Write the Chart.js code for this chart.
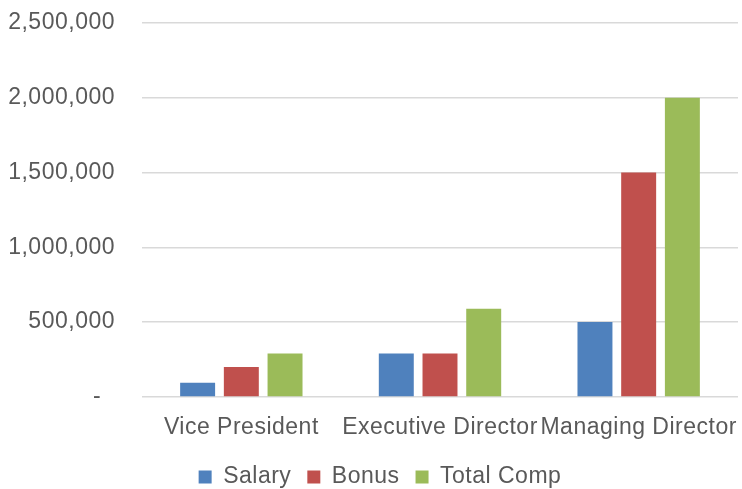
<!DOCTYPE html>
<html>
<head>
<meta charset="utf-8">
<script src="https://cdn.jsdelivr.net/npm/chart.js@4/dist/chart.umd.min.js"></script>
<style>
  html, body { margin: 0; padding: 0; background: #ffffff; }
  #wrap { width: 742px; height: 489px; position: relative; }
</style>
</head>
<body>
<div id="wrap"><canvas id="c"></canvas></div>
<script>
const categories = ['Vice President', 'Executive Director', 'Managing Director'];
const salary = [95000, 290000, 500000];
const bonus = [200000, 290000, 1500000];
const totalComp = [290000, 590000, 2000000];
const seriesNames = ['Salary', 'Bonus', 'Total Comp'];
const yTicks = [0, 500000, 1000000, 1500000, 2000000, 2500000];

const textColor = '#595959';
const fontFamily = '"Liberation Sans", Arial, sans-serif';
const fontSize = 23;

const spacingPlugin = {
  id: 'spacing',
  beforeLayout(chart) { chart.ctx.letterSpacing = '0.5px'; },
  afterLayout(chart) { if (chart.legend) { chart.legend.left += 18; } },
  beforeDraw(chart) { chart.ctx.letterSpacing = '0.5px'; }
};

new Chart(document.getElementById('c'), {
  type: 'bar',
  data: {
    labels: categories,
    datasets: [
      { label: seriesNames[0], data: salary, backgroundColor: '#4f81bd' },
      { label: seriesNames[1], data: bonus, backgroundColor: '#c0504d' },
      { label: seriesNames[2], data: totalComp, backgroundColor: '#9bbb59' }
    ]
  },
  options: {
    responsive: true,
    maintainAspectRatio: false,
    animation: false,
    devicePixelRatio: 1,
    categoryPercentage: 0.66,
    barPercentage: 0.8,
    layout: { padding: { left: 4, right: 4, top: 23, bottom: -9.5 } },
    plugins: {
      tooltip: { enabled: false },
      legend: {
        position: 'bottom',
        labels: {
          boxWidth: 13,
          boxHeight: 13,
          padding: 16,
          color: textColor,
          font: { family: fontFamily, size: fontSize }
        }
      }
    },
    scales: {
      x: {
        grid: { display: false },
        border: { display: false },
        afterFit(scale) { scale.paddingLeft = 0; scale.paddingRight = 0; },
        ticks: { color: textColor, font: { family: fontFamily, size: fontSize }, padding: 8.5, maxRotation: 0, autoSkip: false }
      },
      y: {
        min: 0,
        max: 2500000,
        afterBuildTicks(scale) { scale.ticks = yTicks.map(v => ({ value: v })); },
        afterFit(scale) { scale.width = 138; scale.paddingTop = 0; },
        grid: { color: '#d9d9d9', lineWidth: 1.5, drawTicks: false },
        border: { display: false },
        ticks: {
          color: textColor,
          padding: 27,
          font: { family: fontFamily, size: fontSize },
          callback: (v) => v === 0 ? '-  ' : v.toLocaleString('en-US')
        }
      }
    }
  },
  plugins: [spacingPlugin]
});
</script>
</body>
</html>
